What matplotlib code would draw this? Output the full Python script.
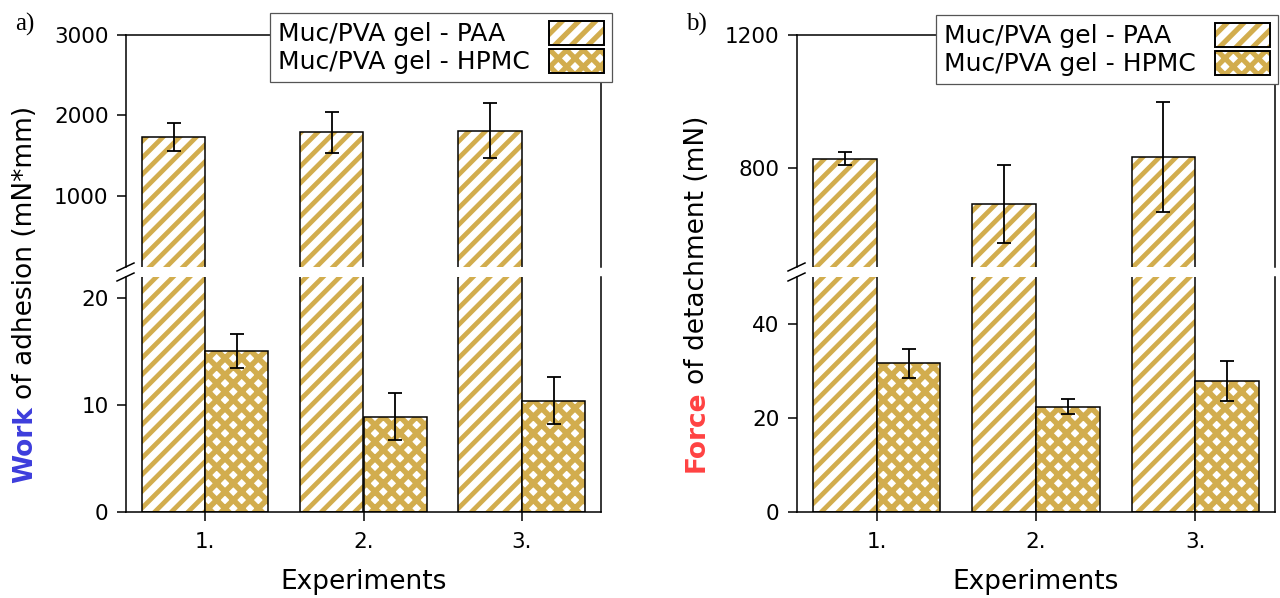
import matplotlib
matplotlib.use("Agg")
import matplotlib.pyplot as plt
from matplotlib.patches import Patch
from matplotlib.lines import Line2D
from matplotlib.legend_handler import HandlerTuple

# data
experiments = ["1.", "2.", "3."]
x_pos = [1, 2, 3]

work_paa = [1730, 1790, 1810]
work_paa_err = [175, 250, 340]
work_hpmc = [15.1, 8.9, 10.4]
work_hpmc_err = [1.6, 2.2, 2.2]

force_paa = [828, 692, 833]
force_paa_err = [20, 117, 165]
force_hpmc = [31.6, 22.4, 27.9]
force_hpmc_err = [3.0, 1.6, 4.2]

# trailing spaces keep the two labels left aligned (handles sit on the right)
series_labels = ["Muc/PVA gel - PAA   ", "Muc/PVA gel - HPMC"]

gold = "#d2ad4e"
paa_hatch_lw = 3.4
hpmc_hatch_lw = 4.0
# legend handles are rebuilt by the handler, they pick up the global value
plt.rcParams["hatch.linewidth"] = 3.7
plt.rcParams["axes.linewidth"] = 1.1

W, H = 1280, 598
fig = plt.figure(figsize=(W / 100, H / 100), dpi=100)


def fx(px):
    return px / W


def fy(py):
    return 1 - py / H


def draw_bars(ax, paa, paa_err, hpmc, hpmc_err):
    xs_paa = [x - 0.2 for x in x_pos]
    xs_hpmc = [x + 0.2 for x in x_pos]
    with plt.rc_context({"hatch.linewidth": paa_hatch_lw}):
        ax.bar(xs_paa, paa, width=0.4, color="white", edgecolor=gold, hatch="//", linewidth=0)
    ax.bar(xs_paa, paa, width=0.4, fill=False, edgecolor="black", linewidth=1.1)
    with plt.rc_context({"hatch.linewidth": hpmc_hatch_lw}):
        ax.bar(xs_hpmc, hpmc, width=0.4, color="white", edgecolor=gold, hatch="xx", linewidth=0)
    ax.bar(xs_hpmc, hpmc, width=0.4, fill=False, edgecolor="black", linewidth=1.1)
    ax.errorbar(xs_paa, paa, yerr=paa_err, fmt="none", ecolor="black",
                elinewidth=1.3, capsize=4.8, capthick=1.3)
    ax.errorbar(xs_hpmc, hpmc, yerr=hpmc_err, fmt="none", ecolor="black",
                elinewidth=1.3, capsize=4.8, capthick=1.3)


def style(ax, top):
    ax.set_xlim(0.5, 3.5)
    ax.tick_params(axis="y", direction="out", length=6.5, width=1.1, pad=6,
                   labelsize=15.5, right=False)
    if top:
        ax.spines["bottom"].set_visible(False)
        ax.tick_params(axis="x", bottom=False, labelbottom=False)
    else:
        ax.spines["top"].set_visible(False)
        ax.set_xticks(x_pos)
        ax.set_xticklabels(experiments)
        ax.tick_params(axis="x", direction="out", length=6.5, width=1.1, pad=8,
                       labelsize=15.5)


def break_marks(xpx, ypx_list):
    for ypx in ypx_list:
        fig.add_artist(Line2D([fx(xpx - 9), fx(xpx + 8)], [fy(ypx + 4), fy(ypx - 4)],
                              color="black", lw=1.1, transform=fig.transFigure))


def legend(ax, left_px, top_px):
    handles = [
        (Patch(facecolor="white", edgecolor=gold, hatch="//", lw=0),
         Patch(fill=False, edgecolor="black", lw=1.4)),
        (Patch(facecolor="white", edgecolor=gold, hatch="xx", lw=0),
         Patch(fill=False, edgecolor="black", lw=1.4)),
    ]
    leg = ax.legend(handles, series_labels, handler_map={tuple: HandlerTuple(ndivide=1)},
                    loc="upper left", bbox_to_anchor=(fx(left_px), fy(top_px)),
                    bbox_transform=fig.transFigure, borderaxespad=0,
                    markerfirst=False, fontsize=18, handlelength=2.2,
                    handleheight=1.1, labelspacing=0.12, borderpad=0.3,
                    handletextpad=0.8, fancybox=False, framealpha=1)
    leg.get_frame().set_edgecolor("#555555")
    leg.get_frame().set_linewidth(0.9)
    leg.set_zorder(10)


def two_tone_ylabel(xpx, ypx, first, rest, color):
    t1 = fig.text(fx(xpx), fy(ypx), first, rotation=90, ha="center", va="bottom",
                  color=color, fontweight="bold", fontsize=19)
    fig.canvas.draw()
    bb = t1.get_window_extent().transformed(fig.transFigure.inverted())
    fig.text(fx(xpx), bb.y1 + 7 / H, rest, rotation=90, ha="center", va="bottom",
             fontsize=19)


panels = [
    dict(left=126, right=601, paa=work_paa, paa_err=work_paa_err, hpmc=work_hpmc,
         hpmc_err=work_hpmc_err, up_lim=(118, 3000), up_ticks=[1000, 2000, 3000],
         low_lim=(0, 22), low_ticks=[0, 10, 20], tag="a)", tag_x=15,
         lab_x=25, lab_y=483, first="Work", rest="of adhesion (mN*mm)", color="#3d3ddc",
         leg_x=270, leg_y=13),
    dict(left=797, right=1275, paa=force_paa, paa_err=force_paa_err, hpmc=force_hpmc,
         hpmc_err=force_hpmc_err, up_lim=(503, 1200), up_ticks=[800, 1200],
         low_lim=(0, 50), low_ticks=[0, 20, 40], tag="b)", tag_x=686,
         lab_x=697, lab_y=472, first="Force", rest="of detachment (mN)", color="#ff4242",
         leg_x=936, leg_y=15),
]

for p in panels:
    width = fx(p["right"] - p["left"])
    ax_up = fig.add_axes([fx(p["left"]), fy(267), width, fy(35) - fy(267)])
    ax_lo = fig.add_axes([fx(p["left"]), fy(512), width, fy(277) - fy(512)])
    for ax, top in ((ax_up, True), (ax_lo, False)):
        draw_bars(ax, p["paa"], p["paa_err"], p["hpmc"], p["hpmc_err"])
        style(ax, top)
    ax_up.set_ylim(*p["up_lim"])
    ax_up.set_yticks(p["up_ticks"])
    ax_lo.set_ylim(*p["low_lim"])
    ax_lo.set_yticks(p["low_ticks"])
    break_marks(p["left"], [267, 277])
    legend(ax_up, p["leg_x"], p["leg_y"])
    fig.text(fx(p["tag_x"]), fy(24), p["tag"], family="Liberation Serif", fontsize=18,
             va="center", ha="left")
    center = (p["left"] + p["right"]) / 2
    fig.text(fx(center), fy(582), "Experiments", fontsize=19, ha="center", va="center")
    two_tone_ylabel(p["lab_x"], p["lab_y"], p["first"], p["rest"], p["color"])

fig.savefig("out.png", dpi=100)
